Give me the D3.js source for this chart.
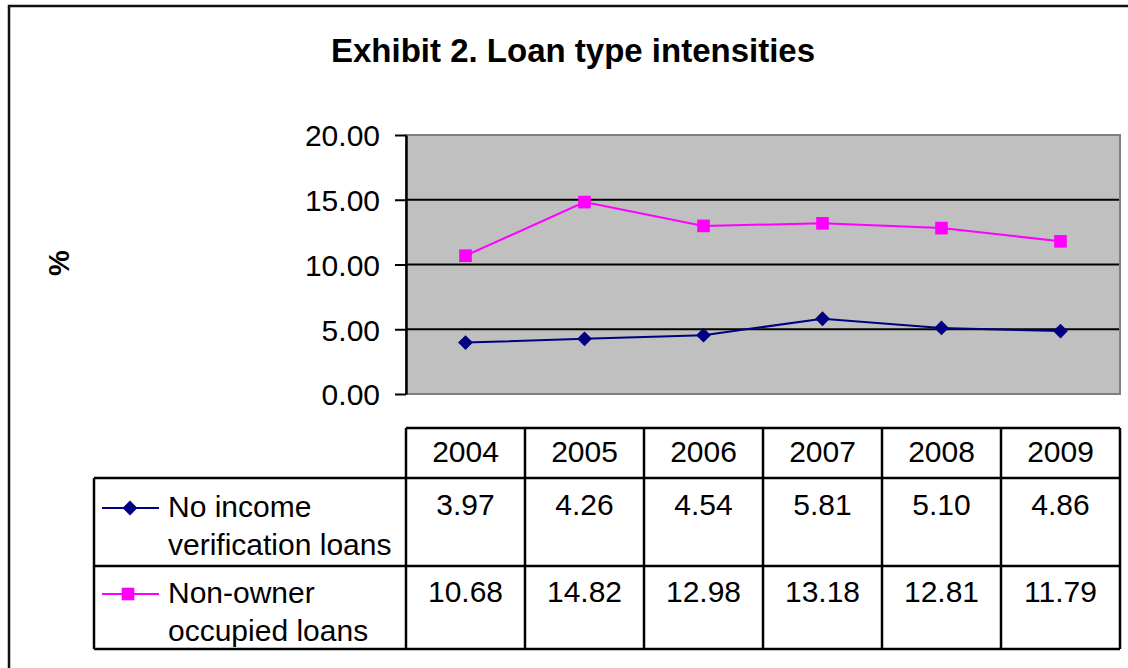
<!DOCTYPE html>
<html>
<head>
<meta charset="utf-8">
<script src="https://cdn.jsdelivr.net/npm/d3@7"></script>
<style>
  body { margin: 0; background: #fff; }
  svg { display: block; font-family: "Liberation Sans", Arial, sans-serif; }
</style>
</head>
<body>
<div id="chart"></div>
<script>
var years = ["2004", "2005", "2006", "2007", "2008", "2009"];
var noIncome = [3.97, 4.26, 4.54, 5.81, 5.10, 4.86];
var nonOwner = [10.68, 14.82, 12.98, 13.18, 12.81, 11.79];
var seriesNames = [["No income", "verification loans"], ["Non-owner", "occupied loans"]];
var yTicks = [0, 5, 10, 15, 20];

var W = 1128, H = 668;
var plot = {left: 406, right: 1120, top: 135, bottom: 394};
var fs = "30px";

var svg = d3.select("#chart").append("svg")
    .attr("width", W)
    .attr("height", H);

// outer frame (runs off right and bottom)
svg.append("rect")
    .attr("x", 9).attr("y", 6)
    .attr("width", 1140).attr("height", 700)
    .attr("fill", "none")
    .attr("stroke", "#111")
    .attr("stroke-width", 2.5);

// title
svg.append("text")
    .attr("x", 573).attr("y", 62)
    .attr("text-anchor", "middle")
    .style("font-size", "33px")
    .style("font-weight", "bold")
    .text("Exhibit 2. Loan type intensities");

// y label
svg.append("text")
    .attr("transform", "translate(69,263) rotate(-90)")
    .attr("text-anchor", "middle")
    .style("font-size", "29px")
    .style("font-weight", "bold")
    .text("%");

var x = d3.scaleBand()
    .domain(years)
    .range([plot.left, plot.right]);

var y = d3.scaleLinear()
    .domain([0, 20])
    .range([plot.bottom, plot.top]);

// plot area
svg.append("rect")
    .attr("x", plot.left).attr("y", plot.top)
    .attr("width", plot.right - plot.left)
    .attr("height", plot.bottom - plot.top)
    .attr("fill", "#c0c0c0")
    .attr("stroke", "#808080")
    .attr("stroke-width", 2);

// gridlines
svg.append("g")
  .selectAll("line")
  .data([5, 10, 15])
  .enter().append("line")
    .attr("x1", plot.left).attr("x2", plot.right - 1)
    .attr("y1", function(d) { return y(d); })
    .attr("y2", function(d) { return y(d); })
    .attr("stroke", "#000")
    .attr("stroke-width", 2);

// y axis
var yAxis = svg.append("g")
    .attr("transform", "translate(" + plot.left + ",0)")
    .call(d3.axisLeft(y)
        .tickValues(yTicks)
        .tickFormat(d3.format(".2f"))
        .tickSize(11)
        .tickSizeOuter(0)
        .tickPadding(15));
yAxis.select(".domain").attr("stroke", "#000").attr("stroke-width", 2.5);
yAxis.selectAll(".tick line").attr("stroke", "#000").attr("stroke-width", 2);
yAxis.selectAll("text")
    .attr("fill", "#000")
    .attr("dy", "0.36em")
    .style("font-size", fs)
    .style("font-family", "'Liberation Sans', Arial, sans-serif");

// series lines
var line = d3.line()
    .x(function(d, i) { return x(years[i]) + x.bandwidth() / 2; })
    .y(function(d) { return y(d); });

svg.append("path")
    .datum(nonOwner)
    .attr("d", line)
    .attr("fill", "none")
    .attr("stroke", "#ff00ff")
    .attr("stroke-width", 2);

svg.append("path")
    .datum(noIncome)
    .attr("d", line)
    .attr("fill", "none")
    .attr("stroke", "#000080")
    .attr("stroke-width", 2);

var diamond = d3.symbol().type(d3.symbolDiamond2).size(140);
var square = d3.symbol().type(d3.symbolSquare).size(160);

svg.append("g")
  .selectAll("path")
  .data(nonOwner)
  .enter().append("path")
    .attr("d", square)
    .attr("transform", function(d, i) { return "translate(" + (x(years[i]) + x.bandwidth() / 2) + "," + y(d) + ")"; })
    .attr("fill", "#ff00ff");

svg.append("g")
  .selectAll("path")
  .data(noIncome)
  .enter().append("path")
    .attr("d", diamond)
    .attr("transform", function(d, i) { return "translate(" + (x(years[i]) + x.bandwidth() / 2) + "," + y(d) + ")"; })
    .attr("fill", "#000080");

// data table
var tbl = {legendLeft: 94, rows: [428, 478, 566, 649]};
var tg = svg.append("g").attr("stroke", "#000").attr("stroke-width", 2.5);

tg.append("line").attr("x1", plot.left).attr("x2", plot.right)
    .attr("y1", tbl.rows[0]).attr("y2", tbl.rows[0]);
tbl.rows.slice(1).forEach(function(r) {
  tg.append("line").attr("x1", tbl.legendLeft).attr("x2", plot.right)
      .attr("y1", r).attr("y2", r);
});
tg.append("line").attr("x1", tbl.legendLeft).attr("x2", tbl.legendLeft)
    .attr("y1", tbl.rows[1]).attr("y2", tbl.rows[3]);
var bounds = years.map(function(d) { return x(d); }).concat([plot.right]);
tg.selectAll(".vline")
  .data(bounds)
  .enter().append("line")
    .attr("x1", function(d) { return d; }).attr("x2", function(d) { return d; })
    .attr("y1", tbl.rows[0]).attr("y2", tbl.rows[3]);

function cellText(values, baseline, fmt) {
  svg.append("g")
    .selectAll("text")
    .data(values)
    .enter().append("text")
      .attr("x", function(d, i) { return x(years[i]) + x.bandwidth() / 2; })
      .attr("y", baseline)
      .attr("text-anchor", "middle")
      .style("font-size", fs)
      .text(fmt);
}
cellText(years, 462, function(d) { return d; });
cellText(noIncome, 515, function(d) { return d.toFixed(2); });
cellText(nonOwner, 602, function(d) { return d.toFixed(2); });

// legend keys in table
var keys = [
  {y: 508, color: "#000080", sym: diamond, cx: 130, lines: seriesNames[0], base: 517},
  {y: 594, color: "#ff00ff", sym: square, cx: 128, lines: seriesNames[1], base: 603}
];
keys.forEach(function(k) {
  svg.append("line")
      .attr("x1", 102).attr("x2", 159)
      .attr("y1", k.y).attr("y2", k.y)
      .attr("stroke", k.color).attr("stroke-width", 2);
  svg.append("path")
      .attr("d", k.sym)
      .attr("transform", "translate(" + k.cx + "," + k.y + ")")
      .attr("fill", k.color);
  k.lines.forEach(function(t, j) {
    svg.append("text")
        .attr("x", 168).attr("y", k.base + j * 38)
        .style("font-size", fs)
        .text(t);
  });
});
</script>
</body>
</html>
